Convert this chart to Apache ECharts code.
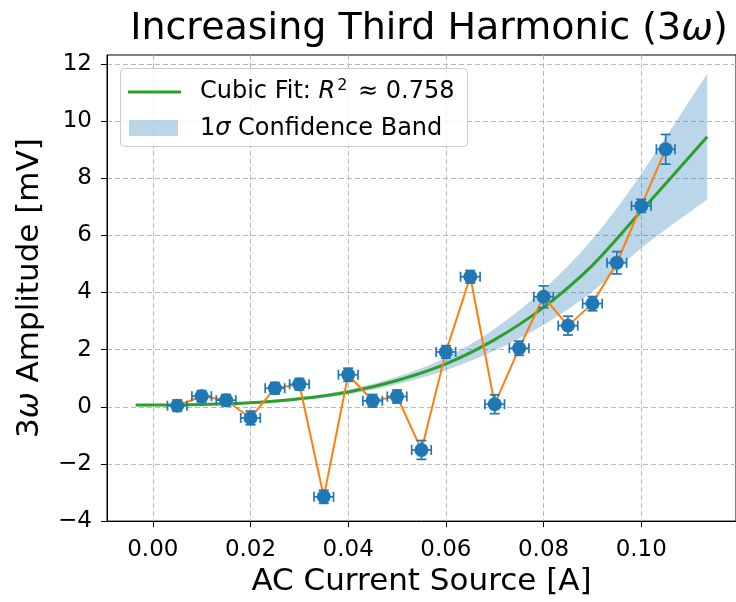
<!DOCTYPE html>
<html><head><meta charset="utf-8">
<script src="https://cdn.jsdelivr.net/npm/echarts@6/dist/echarts.min.js"></script>
<style>html,body{margin:0;padding:0;background:#fff}#c{width:736px;height:602px}</style>
</head><body><div id="c"></div>
<script>
// ---- data ----
const currents = [0.005,0.010,0.015,0.020,0.025,0.030,0.035,0.040,0.045,0.050,0.055,0.060,0.065,0.070,0.075,0.080,0.085,0.090,0.095,0.100,0.105];
const amplitudes = [0.04,0.37,0.23,-0.39,0.65,0.79,-3.15,1.12,0.21,0.36,-1.51,1.92,4.55,0.09,2.05,3.85,2.84,3.61,5.04,7.03,9.01];
const currentErr = [0.002,0.002,0.002,0.002,0.002,0.002,0.002,0.002,0.002,0.002,0.002,0.002,0.002,0.002,0.002,0.002,0.002,0.002,0.002,0.002,0.0019];
const amplitudeErr = [0.2,0.2,0.2,0.24,0.2,0.2,0.23,0.23,0.22,0.23,0.33,0.22,0.22,0.33,0.25,0.38,0.33,0.25,0.39,0.23,0.52];
const fitX = [-0.0035,0,0.01,0.02,0.03,0.04,0.05,0.06,0.07,0.08,0.09,0.10,0.1135];
const fitY = [0.06,0.06,0.08,0.14,0.28,0.52,0.92,1.50,2.35,3.48,4.95,6.85,9.45];
const bandLow = [0.03,0.03,0.05,0.10,0.23,0.44,0.79,1.28,1.97,2.86,4.03,5.55,7.25];
const bandHigh = [0.09,0.09,0.11,0.18,0.33,0.60,1.05,1.72,2.73,4.10,5.87,8.15,11.65];
const xTicks = [0, 0.02, 0.04, 0.06, 0.08, 0.10];
const yTicks = [-4, -2, 0, 2, 4, 6, 8, 10, 12];

const FONT = 'DejaVu Sans';
const BLUE = '#1f77b4', ORANGE = '#ff7f0e', GREEN = '#2ca02c';
const gridLine = {show: true, lineStyle: {color: '#b8b8b8', type: [5, 3], width: 1}};

// Catmull-Rom -> cubic Bezier path segments through screen points
function curveSegs(pts) {
  let d = '';
  for (let i = 0; i < pts.length - 1; i++) {
    const p0 = pts[i - 1] || pts[i], p1 = pts[i], p2 = pts[i + 1], p3 = pts[i + 2] || pts[i + 1];
    const c1 = [p1[0] + (p2[0] - p0[0]) / 6, p1[1] + (p2[1] - p0[1]) / 6];
    const c2 = [p2[0] - (p3[0] - p1[0]) / 6, p2[1] - (p3[1] - p1[1]) / 6];
    d += ' C' + c1[0] + ',' + c1[1] + ' ' + c2[0] + ',' + c2[1] + ' ' + p2[0] + ',' + p2[1];
  }
  return d;
}

const chart = echarts.init(document.getElementById('c'));
chart.setOption({
  animation: false,
  backgroundColor: '#fff',
  title: {
    text: 'Increasing Third Harmonic (3{i|ω})',
    left: 424, top: 5, textAlign: 'center',
    textStyle: {fontFamily: FONT, fontSize: 38, fontWeight: 'normal', color: '#000',
      rich: {i: {fontFamily: FONT, fontSize: 38, fontStyle: 'italic', color: '#000'}}}
  },
  grid: {left: 107, right: -2, top: 55, bottom: 78, show: true, borderColor: '#000', borderWidth: 1, backgroundColor: 'transparent'},
  xAxis: {
    type: 'value', min: -0.00938, max: 0.1194,
    name: 'AC Current Source [A]', nameLocation: 'middle', nameGap: 33,
    nameTextStyle: {fontFamily: FONT, fontSize: 31, color: '#000'},
    axisLine: {show: true, onZero: false, lineStyle: {color: '#000', width: 1}},
    axisTick: {show: true, length: 6, lineStyle: {color: '#000'}, customValues: xTicks},
    axisLabel: {customValues: xTicks, fontFamily: FONT, fontSize: 23, color: '#000', margin: 17,
      formatter: v => v.toFixed(2)},
    splitLine: gridLine
  },
  yAxis: {
    type: 'value', min: -4, max: 12.31,
    name: '3{i|ω} Amplitude [mV]', nameLocation: 'middle', nameGap: 62,
    nameTextStyle: {fontFamily: FONT, fontSize: 31, color: '#000',
      rich: {i: {fontFamily: FONT, fontSize: 31, fontStyle: 'italic', color: '#000'}}},
    axisLine: {show: true, onZero: false, lineStyle: {color: '#000', width: 1}},
    axisTick: {show: true, length: 6, lineStyle: {color: '#000'}, customValues: yTicks},
    axisLabel: {customValues: yTicks, fontFamily: FONT, fontSize: 23, color: '#000', margin: 15,
      formatter: v => String(v).replace('-', '\u2212')},
    splitLine: gridLine
  },
  series: [
    {
      type: 'custom', name: '1σ Confidence Band', z: 1, silent: true,
      encode: {x: 0, y: [1, 2]},
      data: fitX.map((x, i) => [x, bandLow[i], bandHigh[i]]),
      renderItem: function (params, api) {
        if (params.dataIndex !== 0) return null;
        const top = fitX.map((x, i) => api.coord([x, bandHigh[i]]));
        const bot = fitX.map((x, i) => api.coord([x, bandLow[i]])).reverse();
        const d = 'M' + top[0][0] + ',' + top[0][1] + curveSegs(top) +
          ' L' + bot[0][0] + ',' + bot[0][1] + curveSegs(bot) + ' Z';
        return {type: 'path', shape: {pathData: d}, style: {fill: BLUE, opacity: 0.3}};
      }
    },
    {
      type: 'line', name: 'Cubic Fit', smooth: 0.3, symbol: 'none',
      lineStyle: {color: GREEN, width: 3}, z: 2,
      data: fitX.map((x, i) => [x, fitY[i]])
    },
    {
      type: 'line', name: 'Data', symbol: 'none',
      lineStyle: {color: ORANGE, width: 2}, z: 3,
      data: currents.map((x, i) => [x, amplitudes[i]])
    },
    {
      type: 'custom', name: 'Error', z: 4,
      encode: {x: 0, y: 1},
      data: currents.map((x, i) => [x, amplitudes[i], currentErr[i], amplitudeErr[i]]),
      renderItem: function (params, api) {
        const x = api.value(0), y = api.value(1), xe = api.value(2), ye = api.value(3);
        const t = api.coord([x, y + ye]), b = api.coord([x, y - ye]);
        const l = api.coord([x - xe, y]), r = api.coord([x + xe, y]);
        const cap = 5;
        const st = {stroke: BLUE, lineWidth: 1.7};
        const ln = (x1, y1, x2, y2) => ({type: 'line', shape: {x1, y1, x2, y2}, style: st});
        return {type: 'group', children: [
          ln(t[0], t[1], b[0], b[1]),
          ln(t[0] - cap, t[1], t[0] + cap, t[1]),
          ln(b[0] - cap, b[1], b[0] + cap, b[1]),
          ln(l[0], l[1], r[0], r[1]),
          ln(l[0], l[1] - cap, l[0], l[1] + cap),
          ln(r[0], r[1] - cap, r[0], r[1] + cap)
        ]};
      }
    },
    {
      type: 'scatter', name: 'Points', symbol: 'circle', symbolSize: 14, z: 5,
      itemStyle: {color: BLUE, opacity: 1},
      data: currents.map((x, i) => [x, amplitudes[i]])
    }
  ],
  graphic: [
    {type: 'rect', z: 100, shape: {x: 120.5, y: 68.5, width: 347, height: 78, r: 4},
      style: {fill: 'rgba(255,255,255,0.8)', stroke: '#cccccc', lineWidth: 1}},
    {type: 'line', z: 101, shape: {x1: 128, y1: 92, x2: 181, y2: 92}, style: {stroke: GREEN, lineWidth: 3}},
    {type: 'rect', z: 101, shape: {x: 129, y: 120, width: 49, height: 16}, style: {fill: 'rgba(31,119,180,0.3)'}},
    {type: 'text', z: 101, x: 200, y: 92,
      style: {text: 'Cubic Fit: {i|R}{s|2} ≈ 0.758', fontFamily: FONT, fontSize: 24, fill: '#000', verticalAlign: 'middle',
        rich: {i: {fontFamily: FONT, fontSize: 24, fontStyle: 'italic', fill: '#000'},
               s: {fontFamily: FONT, fontSize: 16, lineHeight: 16, fill: '#000', padding: [0, 3, 12, 2]}}}},
    {type: 'text', z: 101, x: 200, y: 129,
      style: {text: '1{i|σ} Confidence Band', fontFamily: FONT, fontSize: 24, fill: '#000', verticalAlign: 'middle',
        rich: {i: {fontFamily: FONT, fontSize: 24, fontStyle: 'italic', fill: '#000'}}}}
  ]
});
</script>
</body></html>
